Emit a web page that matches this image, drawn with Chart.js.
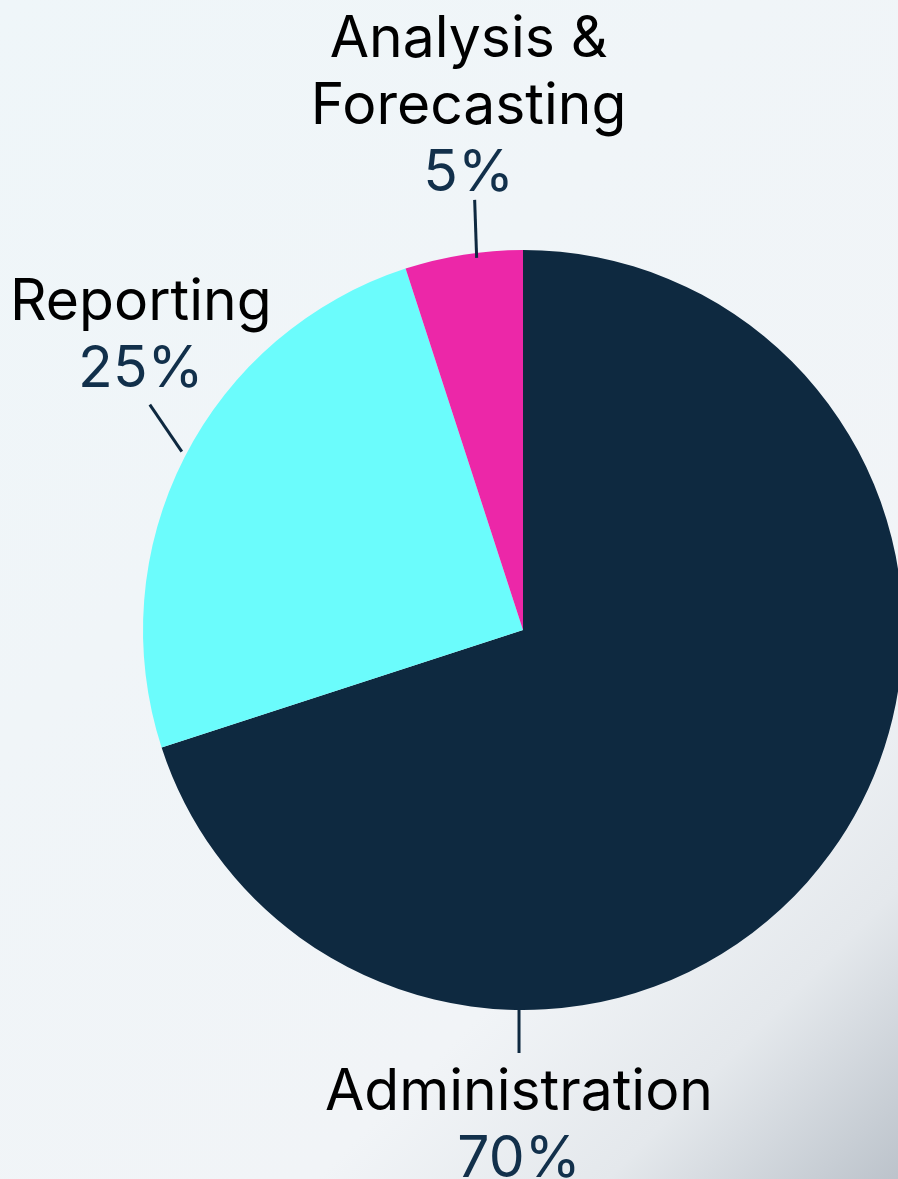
<!DOCTYPE html>
<html>
<head>
<meta charset="utf-8">
<script src="https://cdn.jsdelivr.net/npm/chart.js@4/dist/chart.umd.min.js"></script>
<style>
  html, body { margin: 0; padding: 0; width: 898px; height: 1179px; overflow: hidden; }
  body { background: linear-gradient(135deg, #eff6f9 0%, #f1f4f7 72%, #e4e8ec 86%, #bcc3cb 100%); }
  #wrap { position: absolute; left: 0; top: 0; width: 960px; height: 1179px; }
</style>
</head>
<body>
<div id="wrap"><canvas id="pie"></canvas></div>
<script>
const categories = ['Administration', 'Reporting', 'Analysis & Forecasting'];
const shares = [70, 25, 5];
const sliceColors = ['#0e2940', '#6bfcfc', '#ec27a8'];
// label text split over lines
const labelLines = [['Administration'], ['Reporting'], ['Analysis &', 'Forecasting']];

const FONT = '400 57px Inter, "Noto Sans", sans-serif';
const LINE_H = 67;

// where each callout sits: angle on the rim, leader vector, text offset from leader end
const callouts = [
    { deg: 90.6,  inset: 0,  lx: 0,   ly: 43,  tx: 0,  ty: 57,  below: true },
    { deg: 207.6, inset: -5, lx: -32, ly: -47, tx: -9, ty: -18, below: false },
    { deg: 262.9, inset: 5,  lx: -2,  ly: -58, tx: -6, ty: -9,  below: false }
];

const calloutPlugin = {
    id: 'callouts',
    afterDraw(chart) {
        const ctx = chart.ctx;
        const meta = chart.getDatasetMeta(0);
        ctx.save();
        meta.data.forEach((arc, i) => {
            const p = arc.getProps(['x', 'y', 'outerRadius'], true);
            const c = callouts[i];
            const a = c.deg * Math.PI / 180;
            const r = p.outerRadius - c.inset;
            const x0 = p.x + Math.cos(a) * r, y0 = p.y + Math.sin(a) * r;
            const x1 = x0 + c.lx, y1 = y0 + c.ly;

            ctx.strokeStyle = '#0e2940';
            ctx.lineWidth = 3;
            ctx.beginPath();
            ctx.moveTo(x0, y0);
            ctx.lineTo(x1, y1);
            ctx.stroke();

            const lines = labelLines[i].map(t => ({ t, c: '#000000' }));
            lines.push({ t: shares[i] + '%', c: '#12304b' });

            ctx.font = FONT;
            ctx.textAlign = 'center';
            ctx.textBaseline = 'alphabetic';
            const tx = x1 + c.tx;
            let base = c.below ? y1 + c.ty : y1 + c.ty - (lines.length - 1) * LINE_H;
            lines.forEach(l => {
                ctx.fillStyle = l.c;
                ctx.fillText(l.t, tx, base);
                base += LINE_H;
            });
        });
        ctx.restore();
    }
};

new Chart(document.getElementById('pie'), {
    type: 'pie',
    data: {
        labels: categories,
        datasets: [{
            data: shares,
            backgroundColor: sliceColors,
            borderWidth: 0
        }]
    },
    options: {
        responsive: true,
        maintainAspectRatio: false,
        animation: false,
        layout: { padding: { left: 143, right: 57, top: 250, bottom: 169 } },
        plugins: {
            legend: { display: false },
            tooltip: { enabled: false }
        }
    },
    plugins: [calloutPlugin]
});
</script>
</body>
</html>
